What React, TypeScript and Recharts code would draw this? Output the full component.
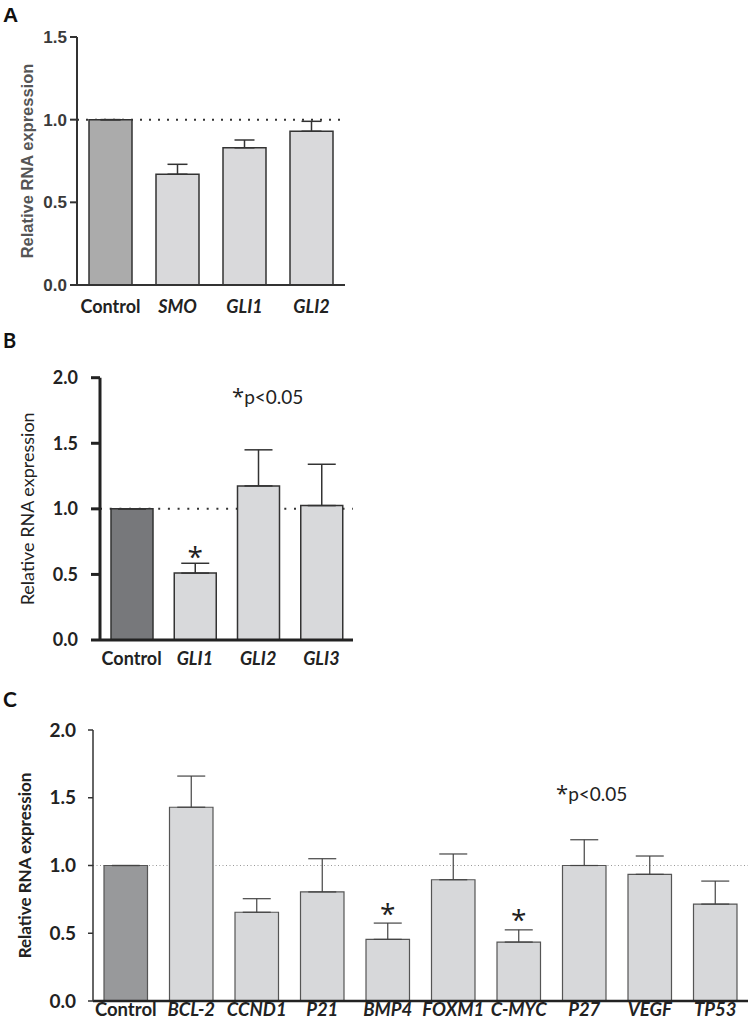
import React from "react"
import {
  BarChart,
  Bar,
  XAxis,
  YAxis,
  ErrorBar,
  ReferenceLine,
  Cell,
  LabelList,
} from "recharts"

// panel A
const categoriesA = ["Control", "SMO", "GLI1", "GLI2"]
const valuesA = [1.0, 0.67, 0.83, 0.93]
const errorsA = [0, 0.06, 0.047, 0.06]
const significantA = [false, false, false, false]
const ticksA = [0, 0.5, 1, 1.5]

// panel B
const categoriesB = ["Control", "GLI1", "GLI2", "GLI3"]
const valuesB = [1.0, 0.51, 1.175, 1.025]
const errorsB = [0, 0.075, 0.275, 0.315]
const significantB = [false, true, false, false]
const ticksB = [0, 0.5, 1, 1.5, 2]

// panel C
const categoriesC = [
  "Control",
  "BCL-2",
  "CCND1",
  "P21",
  "BMP4",
  "FOXM1",
  "C-MYC",
  "P27",
  "VEGF",
  "TP53",
]
const valuesC = [1.0, 1.43, 0.655, 0.805, 0.455, 0.895, 0.435, 1.0, 0.935, 0.715]
const errorsC = [0, 0.23, 0.1, 0.245, 0.12, 0.19, 0.09, 0.19, 0.135, 0.17]
const significantC = [false, false, false, false, true, false, true, false, false, false]
const ticksC = [0, 0.5, 1, 1.5, 2]

const ARIAL = "'Liberation Sans', Arial, sans-serif"
const CALIBRI = "Lato, 'Open Sans', sans-serif"
const STAR = "'Open Sans', 'DejaVu Sans', sans-serif"

function buildRows(cats: string[], vals: number[], errs: number[], sig: boolean[]) {
  return cats.map((name, i) => ({
    name,
    value: vals[i],
    err: [0, errs[i]],
    sig: sig[i] ? "*" : "",
  }))
}

function CategoryTick(props: any) {
  const { x, y, payload, font } = props
  const italic = payload.value !== "Control"
  return (
    <text
      x={x}
      y={y}
      dy="0.71em"
      textAnchor="middle"
      fontFamily={font.family}
      fontSize={font.size}
      fontWeight={font.weight}
      fontStyle={italic ? "italic" : "normal"}
      fill={font.fill}
    >
      {payload.value}
    </text>
  )
}

function Panel(props: any) {
  const p = props.cfg
  const rows = buildRows(p.categories, p.values, p.errors, p.significant)

  const starLabel = (lp: any) => {
    const vb = lp.viewBox || lp
    const i = lp.index
    if (i == null || !p.significant[i]) return null
    const perUnit = vb.height / p.values[i]
    const errTop = vb.y - p.errors[i] * perUnit
    return (
      <text
        x={vb.x + vb.width / 2}
        y={errTop + p.starGap}
        textAnchor="middle"
        fontFamily={STAR}
        fontSize={28}
        fill="#222"
      >
        *
      </text>
    )
  }

  return (
    <div style={{ position: "absolute", left: 0, top: p.top }}>
      <BarChart
        width={p.width}
        height={p.height}
        data={rows}
        margin={p.margin}
      >
        <XAxis
          dataKey="name"
          height={p.xAxisHeight}
          tickLine={false}
          tickSize={0}
          tickMargin={p.catMargin}
          axisLine={{ stroke: p.xAxisStroke, strokeWidth: p.xAxisWidth }}
          tick={<CategoryTick font={p.catFont} />}
          interval={0}
        />
        <YAxis
          width={p.yAxisWidth}
          domain={p.domain}
          ticks={p.ticks}
          allowDataOverflow
          tickFormatter={(v: number) => v.toFixed(1)}
          tickSize={p.tickSize}
          tickMargin={p.tickMargin}
          axisLine={{ stroke: p.yAxisStroke, strokeWidth: p.yAxisWidth2 }}
          tickLine={{ stroke: p.yAxisStroke, strokeWidth: p.yAxisWidth2 }}
          tick={{
            fontFamily: p.tickFont.family,
            fontSize: p.tickFont.size,
            fontWeight: p.tickFont.weight,
            fill: p.tickFont.fill,
          }}
          label={{
            value: "Relative RNA expression",
            angle: -90,
            position: "insideLeft",
            offset: p.yLabel.offset,
            style: {
              textAnchor: "middle",
              fontFamily: p.yLabel.family,
              fontSize: p.yLabel.size,
              fontWeight: p.yLabel.weight,
              fill: p.yLabel.fill,
            },
          }}
        />
        <ReferenceLine
          y={1}
          stroke={p.ref.stroke}
          strokeWidth={p.ref.width}
          strokeDasharray={p.ref.dash}
          zIndex={100}
        />
        <Bar
          dataKey="value"
          barSize={p.barSize}
          stroke={p.barStroke}
          strokeWidth={p.barStrokeWidth}
          isAnimationActive={false}
        >
          {rows.map((r, i) => (
            <Cell key={i} fill={i === 0 ? p.controlFill : p.fill} />
          ))}
          <ErrorBar
            dataKey="err"
            direction="y"
            width={p.errWidth}
            stroke={p.errStroke}
            strokeWidth={p.errStrokeWidth}
            isAnimationActive={false}
          />
          <LabelList dataKey="sig" content={starLabel} />
        </Bar>
      </BarChart>
    </div>
  )
}

const panelA = {
  categories: categoriesA,
  values: valuesA,
  errors: errorsA,
  significant: significantA,
  ticks: ticksA,
  domain: [0, 1.5],
  top: 0,
  width: 360,
  height: 330,
  margin: { top: 37, right: 15, left: 0, bottom: 0 },
  yAxisWidth: 77,
  xAxisHeight: 45,
  barSize: 43,
  controlFill: "#ababab",
  fill: "#d9d9db",
  barStroke: "#333",
  barStrokeWidth: 1.5,
  xAxisStroke: "#333",
  xAxisWidth: 2,
  yAxisStroke: "#333",
  yAxisWidth2: 2,
  tickSize: 7,
  tickMargin: 3,
  tickFont: { family: ARIAL, size: 17, weight: "bold", fill: "#3a3a3a" },
  catFont: { family: CALIBRI, size: 18, weight: "bold", fill: "#222" },
  catMargin: 15,
  yLabel: { family: ARIAL, size: 16.5, weight: "bold", fill: "#555", offset: 27.5 },
  ref: { stroke: "#333", width: 2, dash: "2 7" },
  errWidth: 10,
  errStroke: "#333",
  errStrokeWidth: 1.5,
  starGap: 3,
}

const panelB = {
  categories: categoriesB,
  values: valuesB,
  errors: errorsB,
  significant: significantB,
  ticks: ticksB,
  domain: [0, 2],
  top: 330,
  width: 370,
  height: 350,
  margin: { top: 47.7, right: 17, left: 0, bottom: 0 },
  yAxisWidth: 100,
  xAxisHeight: 40,
  barSize: 42,
  controlFill: "#77787b",
  fill: "#d8d9db",
  barStroke: "#333",
  barStrokeWidth: 1.5,
  xAxisStroke: "#222",
  xAxisWidth: 3,
  yAxisStroke: "#222",
  yAxisWidth2: 3,
  tickSize: 9,
  tickMargin: 13,
  tickFont: { family: CALIBRI, size: 18, weight: "bold", fill: "#222" },
  catFont: { family: CALIBRI, size: 18, weight: "bold", fill: "#222" },
  catMargin: 12,
  yLabel: { family: CALIBRI, size: 18, weight: "normal", fill: "#222", offset: 28 },
  ref: { stroke: "#333", width: 2, dash: "2 7.7" },
  errWidth: 14,
  errStroke: "#333",
  errStrokeWidth: 1.5,
  starGap: 3.5,
}

const panelC = {
  categories: categoriesC,
  values: valuesC,
  errors: errorsC,
  significant: significantC,
  ticks: ticksC,
  domain: [0, 2],
  top: 680,
  width: 752,
  height: 349,
  margin: { top: 50, right: 4, left: 0, bottom: 0 },
  yAxisWidth: 93,
  xAxisHeight: 28,
  barSize: 43.5,
  controlFill: "#98999b",
  fill: "#d7d8da",
  barStroke: "#555",
  barStrokeWidth: 1.2,
  xAxisStroke: "#222",
  xAxisWidth: 2.5,
  yAxisStroke: "#333",
  yAxisWidth2: 1.5,
  tickSize: 5,
  tickMargin: 12,
  tickFont: { family: CALIBRI, size: 19, weight: "bold", fill: "#222" },
  catFont: { family: CALIBRI, size: 18.5, weight: "bold", fill: "#222" },
  catMargin: 2,
  yLabel: { family: CALIBRI, size: 17, weight: "bold", fill: "#222", offset: 25 },
  ref: { stroke: "#999", width: 1, dash: "1 2.5" },
  errWidth: 14,
  errStroke: "#444",
  errStrokeWidth: 1.2,
  starGap: 0.5,
}

export default function App() {
  return (
    <div
      style={{
        position: "absolute",
        left: 0,
        top: 0,
        width: 752,
        height: 1029,
        background: "#fff",
        overflow: "hidden",
      }}
    >
      <Panel cfg={panelA} />
      <Panel cfg={panelB} />
      <Panel cfg={panelC} />
      <svg
        width={752}
        height={1029}
        style={{ position: "absolute", left: 0, top: 0, pointerEvents: "none" }}
      >
        <text x={3} y={22} fontFamily={ARIAL} fontSize={21} fontWeight="bold" fill="#111">
          A
        </text>
        <text x={3} y={348} fontFamily={CALIBRI} fontSize={20} fontWeight="bold" fill="#111">
          B
        </text>
        <text x={3} y={707} fontFamily={CALIBRI} fontSize={21} fontWeight="bold" fill="#111">
          C
        </text>
        <text x={232} y={404} fontFamily={CALIBRI} fontSize={19} fill="#222">
          <tspan fontFamily={STAR} fontSize={22}>*</tspan>p&lt;0.05
        </text>
        <text x={556} y={801} fontFamily={CALIBRI} fontSize={19} fill="#222">
          <tspan fontFamily={STAR} fontSize={22}>*</tspan>p&lt;0.05
        </text>
      </svg>
    </div>
  )
}
